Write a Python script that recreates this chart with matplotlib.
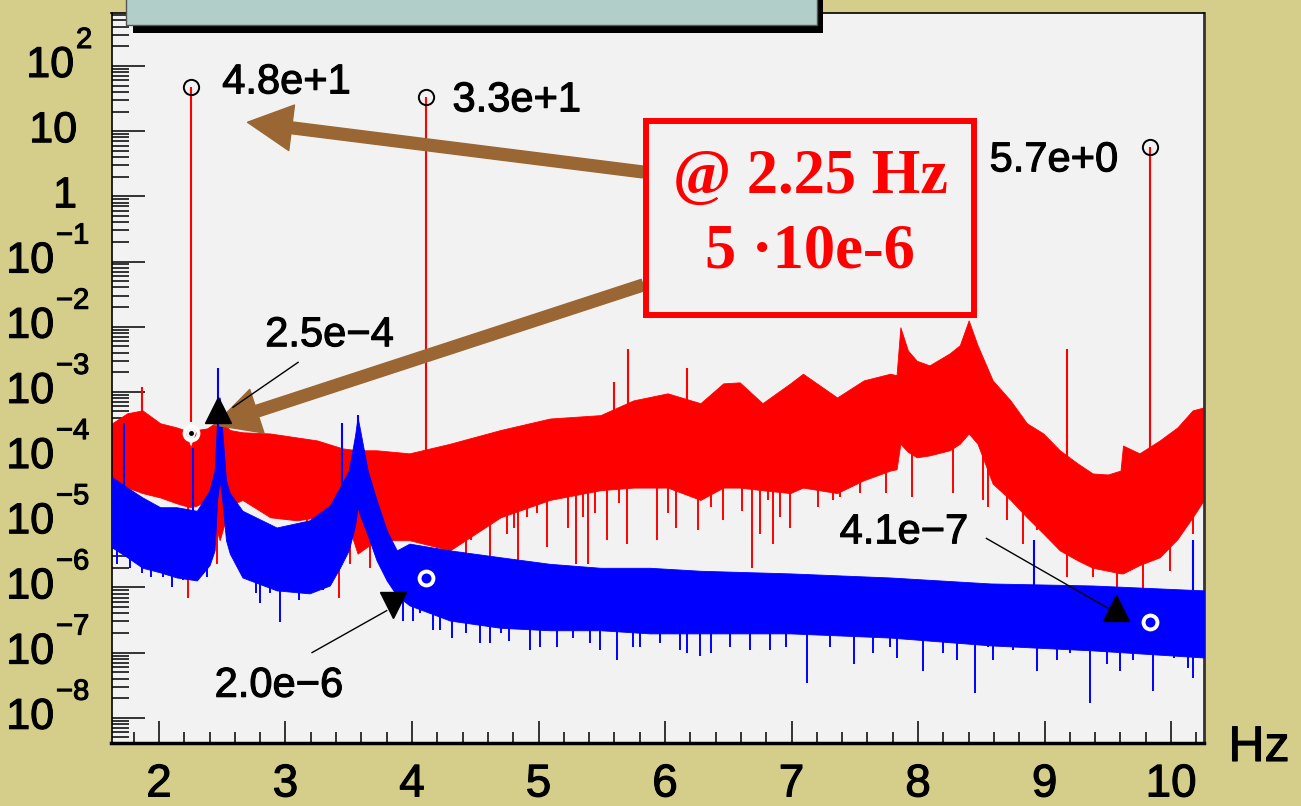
import numpy as np
import matplotlib.pyplot as plt
from matplotlib import transforms
from matplotlib import patheffects
from matplotlib.patches import Rectangle
from matplotlib.ticker import LogLocator, MultipleLocator, NullFormatter

plt.rcParams['font.family'] = ['Liberation Sans', 'DejaVu Sans']

# ---- red spectrum (dense band: upper / lower envelope)
red_hz = [1.63, 1.75, 1.87, 2.01, 2.14, 2.20, 2.25, 2.30, 2.38, 2.48, 2.56, 2.66,
          2.88, 3.09, 3.25, 3.45, 3.57, 3.72, 3.98, 4.30, 4.70, 5.09, 5.49, 5.75,
          6.02, 6.28, 6.46, 6.59, 6.77, 6.99, 7.09, 7.36, 7.57, 7.78, 7.83, 7.86,
          7.92, 7.99, 8.09, 8.25, 8.33, 8.40, 8.47, 8.59, 8.73, 8.86, 8.99, 9.12,
          9.26, 9.38, 9.50, 9.60, 9.62, 9.75, 9.91, 10.05, 10.17, 10.26]
red_hi = [3.3e-4, 4.7e-4, 5.2e-4, 3.3e-4, 2.85e-4, 2.6e-4, 1.4e-4, 2.6e-4, 2.75e-4, 3.7e-4, 2.6e-4, 2.4e-4,
          2.3e-4, 2.0e-4, 1.8e-4, 1.36e-4, 1.27e-4, 1.27e-4, 1.14e-4, 1.6e-4, 2.6e-4, 3.9e-4, 4.4e-4, 7.4e-4,
          9.5e-4, 6.7e-4, 1.35e-3, 1.4e-3, 6.7e-4, 1.35e-3, 1.9e-3, 8.2e-4, 1.5e-3, 1.9e-3, 1.8e-3, 9.8e-3,
          4.3e-3, 3.0e-3, 2.55e-3, 3.9e-3, 5.2e-3, 1.25e-2, 5.2e-3, 1.5e-3, 7.4e-4, 3.3e-4, 2.3e-4, 1.27e-4,
          8.0e-5, 5.6e-5, 5.4e-5, 6.2e-5, 1.5e-4, 1.14e-4, 1.8e-4, 2.85e-4, 5.2e-4, 5.8e-4]
red_lo = [4.4e-5, 3.4e-5, 2.8e-5, 2.4e-5, 1.95e-5, 1.8e-5, 1.7e-5, 1.8e-5, 2.2e-5, 5.3e-6, 1.8e-5, 2.2e-5,
          1.19e-5, 1.07e-5, 1.19e-5, 1.7e-5, 3.3e-6, 5.3e-6, 5.3e-6, 3.7e-6, 1.19e-5, 2.2e-5, 3.1e-5, 3.4e-5,
          3.4e-5, 2.2e-5, 3.4e-5, 3.4e-5, 3.1e-5, 2.8e-5, 3.4e-5, 2.8e-5, 4.4e-5, 6.2e-5, 6.5e-5, 1.6e-4,
          1.2e-4, 9.9e-5, 1.06e-4, 1.27e-4, 1.6e-4, 2.3e-4, 1.6e-4, 3.9e-5, 2.2e-5, 1.19e-5, 6.7e-6, 3.7e-6,
          2.6e-6, 2.0e-6, 1.8e-6, 1.64e-6, 1.64e-6, 2.2e-6, 2.9e-6, 5.5e-6, 1.19e-5, 2.2e-5]

# red downward spikes: position, lowest value, value where they join the band
red_dip_hz = [2.23, 2.46, 2.85, 3.01, 3.17, 3.30, 3.42, 3.51, 3.67, 3.77, 4.02, 4.10,
              4.20, 4.32, 4.38, 4.43, 4.47, 4.55, 4.62, 4.75, 4.81, 4.84, 4.91, 4.99,
              5.07, 5.23, 5.30, 5.35, 5.39, 5.45, 5.54, 5.64, 5.70, 5.94, 6.02, 6.09,
              6.26, 6.36, 6.46, 6.61, 6.69, 6.75, 6.81, 6.85, 6.91, 6.99, 7.21, 7.33,
              7.38, 7.54, 7.75, 7.95, 8.28, 8.51, 8.55, 8.70, 8.83, 8.94, 9.18, 9.38,
              9.57, 9.78, 9.99, 10.17]
red_dip_lo = [7.0e-7, 2.3e-6, 1.37e-5, 1.07e-5, 1.0e-6, 1.0e-6, 7.0e-7, 2.3e-6, 2.0e-6, 2.6e-6, 6.7e-6, 7.5e-6,
              5.0e-7, 6.7e-6, 7.5e-6, 3.3e-6, 5.3e-6, 7.5e-6, 2.9e-6, 6.7e-6, 8.3e-6, 2.6e-6, 1.19e-5, 1.37e-5,
              4.1e-6, 8.3e-6, 2.3e-6, 1.19e-5, 2.3e-6, 1.37e-5, 5.3e-6, 1.95e-5, 4.7e-6, 5.3e-6, 1.37e-5, 8.3e-6,
              7.5e-6, 1.7e-5, 1.07e-5, 1.5e-5, 2.0e-6, 6.7e-6, 2.2e-5, 4.7e-6, 1.19e-5, 8.3e-6, 1.7e-5, 2.2e-5,
              2.4e-5, 2.8e-5, 2.8e-5, 2.4e-5, 2.8e-5, 2.2e-5, 1.7e-5, 1.07e-5, 4.7e-6, 7.5e-6, 1.42e-6, 1.42e-6,
              1.0e-6, 9.0e-7, 1.8e-6, 6.7e-6]
red_dip_hi = [5e-5] * 13 + [5e-5, 5e-5] + [1e-4] * 22 + [2e-4] * 12 + [3e-4] * 6 + [1e-4, 5e-5, 5e-5] \
             + [2e-5] * 4 + [5e-5, 1e-4]

# red upward lines
red_line_hz = [1.87, 5.60, 5.71, 6.17, 9.18]
red_line_top = [1.2e-3, 1.4e-3, 4.6e-3, 2.3e-3, 4.6e-3]
red_line_base = [1e-4, 2e-4, 2e-4, 2e-4, 5e-5]

# red peaks found (circle markers + labels)
red_peak_hz = [2.25, 4.11, 9.83]
red_peak_val = [48, 33, 5.7]
red_peak_base = [3.4e-4, 1e-4, 1e-4]
red_peak_txt = ['4.8e+1', '3.3e+1', '5.7e+0']
white_mark_val = [2.3e-4, 1.4e-6, 2.9e-7]

# ---- blue spectrum
blue_hz = [1.63, 1.75, 1.87, 2.01, 2.14, 2.30, 2.40, 2.44, 2.46, 2.48, 2.50, 2.53,
           2.56, 2.66, 2.93, 3.19, 3.35, 3.43, 3.50, 3.55, 3.57, 3.59, 3.65, 3.72,
           3.80, 3.88, 3.98, 4.30, 4.70, 5.09, 5.49, 5.88, 6.28, 6.99, 7.78, 8.57,
           9.38, 10.26]
blue_hi = [4.9e-5, 3.4e-5, 2.4e-5, 1.7e-5, 1.7e-5, 1.5e-5, 3.1e-5, 6.2e-5, 3.7e-4, 8.2e-4, 2.6e-4, 4.4e-5,
           2.8e-5, 1.5e-5, 8.3e-6, 1.07e-5, 1.8e-5, 3.4e-5, 6.2e-5, 2.15e-4, 4.1e-4, 2.6e-4, 6.2e-5, 2.2e-5,
           7.5e-6, 3.7e-6, 4.7e-6, 3.7e-6, 2.9e-6, 2.3e-6, 2.0e-6, 2.0e-6, 1.8e-6, 1.64e-6, 1.42e-6, 1.15e-6,
           1.07e-6, 9.0e-7]
blue_lo = [4.1e-6, 2.9e-6, 2.0e-6, 1.7e-6, 1.42e-6, 1.28e-6, 2.2e-6, 3.7e-6, 2.2e-5, 4.4e-5, 2.2e-5, 5.3e-6,
           3.3e-6, 1.42e-6, 9.0e-7, 8.1e-7, 1.07e-6, 2.0e-6, 3.7e-6, 8.9e-6, 1.7e-5, 1.27e-5, 6.3e-6, 2.6e-6,
           1.28e-6, 7.5e-7, 5.3e-7, 3.1e-7, 2.4e-7, 2.2e-7, 2.2e-7, 1.97e-7, 1.97e-7, 1.97e-7, 1.7e-7, 1.29e-7,
           1.08e-7, 8.4e-8]

blue_dip_hz = [1.67, 1.77, 1.87, 1.94, 2.03, 2.10, 2.19, 2.38, 2.72, 2.77, 2.80, 2.88,
               2.96, 3.11, 3.30, 3.93, 4.01, 4.06, 4.17, 4.22, 4.32, 4.43, 4.54, 4.62,
               4.70, 4.77, 4.93, 5.01, 5.15, 5.27, 5.41, 5.49, 5.62, 5.75, 5.80, 5.96,
               6.12, 6.17, 6.28, 6.36, 6.51, 6.67, 6.83, 6.96, 7.12, 7.30, 7.49, 7.64,
               7.78, 7.83, 8.04, 8.20, 8.31, 8.45, 8.55, 8.59, 8.75, 8.94, 9.10, 9.20,
               9.36, 9.49, 9.60, 9.70, 9.86, 10.02, 10.13, 10.17]
blue_dip_lo = [2.3e-6, 2.0e-6, 1.64e-6, 1.42e-6, 1.42e-6, 1.0e-6, 1.28e-6, 1.42e-6, 1.28e-6, 8.1e-7, 5.7e-7, 8.1e-7,
               2.9e-7, 6.3e-7, 9.0e-7, 3.1e-7, 3.1e-7, 4.0e-7, 2.2e-7, 2.2e-7, 1.7e-7, 1.97e-7, 1.38e-7, 1.38e-7,
               1.97e-7, 1.53e-7, 1.08e-7, 1.2e-7, 1.2e-7, 1.7e-7, 1.38e-7, 1.08e-7, 7.6e-8, 1.2e-7, 1.2e-7, 1.38e-7,
               1.08e-7, 9.7e-8, 9.0e-8, 9.7e-8, 1.2e-7, 1.08e-7, 1.08e-7, 1.2e-7, 3.4e-8, 1.2e-7, 6.8e-8, 9.7e-8,
               1.2e-7, 8.4e-8, 5.3e-8, 9.7e-8, 7.6e-8, 2.4e-8, 1.2e-7, 7.6e-8, 1.08e-7, 5.3e-8, 7.6e-8, 9.7e-8,
               1.66e-8, 6.8e-8, 5.3e-8, 7.6e-8, 2.6e-8, 8.4e-8, 5.9e-8, 4.1e-8]
blue_dip_hi = [1e-5, 1e-5] + [5e-6] * 6 + [3e-6] * 7 + [2e-6] * 3 + [1e-6] * 2 + [5e-7] * 48

blue_line_hz = [1.72, 2.27, 2.47, 3.45, 3.57, 8.92, 10.17]
blue_line_top = [3.3e-4, 1.4e-4, 2.3e-3, 3.3e-4, 4.4e-4, 5.3e-6, 5.3e-6]
blue_line_base = [2e-5, 1e-5, 1e-4, 1e-5, 1e-4, 5e-7, 5e-7]

# blue peaks found (triangle markers + labels)
blue_peak_hz = [2.47, 3.85, 9.565]
blue_mark_val = [5.2e-4, 5.3e-7, 4.75e-7]
blue_peak_txt = ['2.5e\u22124', '2.0e\u22126', '4.1e\u22127']

W, H = 1301, 806
fig = plt.figure(figsize=(W / 100, H / 100), dpi=100, facecolor='#d4ce8a')
ax = fig.add_axes([111.5 / W, 1 - 743 / H, (1204 - 111.5) / W, (743 - 13) / H])
ax.set_facecolor('#f2f2f2')
ax.set_yscale('log')
ax.set_xlim(1.625, 10.26)
ax.set_ylim(4.1e-9, 650)

heavy = [patheffects.withStroke(linewidth=0.8, foreground='black')]

# red
ax.vlines(red_dip_hz, red_dip_lo, red_dip_hi, color='red', lw=1.4, zorder=1.8)
ax.fill_between(red_hz, red_lo, red_hi, color='red', lw=0.6, zorder=2)
ax.vlines(red_line_hz, red_line_base, red_line_top, color='red', lw=1.5, zorder=2.1)
ax.vlines(red_peak_hz, red_peak_base, red_peak_val, color='red', lw=1.5, zorder=2.1)

# blue on top
ax.vlines(blue_dip_hz, blue_dip_lo, blue_dip_hi, color='blue', lw=1.4, zorder=2.8)
ax.fill_between(blue_hz, blue_lo, blue_hi, color='blue', lw=0.6, zorder=3)
ax.vlines(blue_line_hz, blue_line_base, blue_line_top, color='blue', lw=1.5, zorder=3.1)

# markers
ax.plot(red_peak_hz, red_peak_val, 'o', ms=11, mfc='none', mec='black', mew=1.4, zorder=5)
ax.plot(red_peak_hz, white_mark_val, 'o', ms=10, mfc='none', mec='white', mew=2.8, zorder=5)
ax.plot(red_peak_hz[0], white_mark_val[0], 'o', ms=2.5, color='black', zorder=6)
for hz, v, m in zip(blue_peak_hz, blue_mark_val, ['^', 'v', '^']):
    ax.plot(hz, v, m, ms=19, color='black', mec='black', zorder=5)

# peak labels
lab = dict(fontsize=30, va='center', zorder=6, path_effects=heavy)
ax.text(2.50, 56, red_peak_txt[0], ha='left', **lab)
ax.text(4.32, 29.7, red_peak_txt[1], ha='left', **lab)
ax.text(9.58, 3.57, red_peak_txt[2], ha='right', **lab)
ax.text(2.84, 7.4e-3, blue_peak_txt[0], ha='left', **lab)
ax.text(2.44, 3.1e-8, blue_peak_txt[1], ha='left', **lab)
ax.text(7.38, 7.0e-6, blue_peak_txt[2], ha='left', **lab)
ax.plot([3.10, 2.585], [2.84e-3, 5.8e-4], color='black', lw=1, zorder=6)
ax.plot([3.21, 3.80], [1.0e-7, 4.4e-7], color='black', lw=1, zorder=6)
ax.plot([8.54, 9.50], [5.65e-6, 4.8e-7], color='black', lw=1, zorder=6)

# brown arrows towards the 2.25 Hz box
arrow_style = 'simple,head_length=32,head_width=33,tail_width=8.5'
for tip, tail in [((2.70, 13.7), (643, H - 172)), ((2.44, 3.1e-4), (643, H - 285))]:
    ax.annotate('', xy=tip, xycoords='data', xytext=tail, textcoords='figure pixels',
                annotation_clip=False,
                arrowprops=dict(arrowstyle=arrow_style, mutation_scale=1, color='#9a6633',
                                shrinkA=0, shrinkB=0, zorder=7))

# axes ticks
ax.set_xticks(range(2, 11))
ax.xaxis.set_minor_locator(MultipleLocator(0.2))
ax.set_yticks([10.0 ** k for k in range(-8, 3)])
ax.yaxis.set_minor_locator(LogLocator(base=10, subs=np.arange(2, 10), numticks=100))
ax.yaxis.set_minor_formatter(NullFormatter())
ax.tick_params(axis='x', which='major', direction='in', length=16, width=1.1, pad=14, labelsize=33)
ax.tick_params(axis='x', which='minor', direction='in', length=8, width=1.1)
ax.tick_params(axis='y', which='major', direction='in', length=24, width=1.1, labelleft=False)
ax.tick_params(axis='y', which='minor', direction='in', length=12, width=1.1)
for t in ax.get_xticklabels():
    t.set_path_effects(heavy)
for s in ax.spines.values():
    s.set_linewidth(1.2)
ax.spines['bottom'].set_linewidth(2.5)
ax.spines['right'].set_color('#333333')
ax.spines['right'].set_linewidth(2)

# ROOT-like log labels
blend = transforms.blended_transform_factory(fig.transFigure, ax.transData)
up = transforms.offset_copy(blend, fig=fig, x=0, y=26, units='dots')
for k in range(-8, 3):
    v = 10.0 ** k
    if k in (0, 1):
        ax.text(77 / W, v, str(10 ** k), transform=blend, ha='right', va='center', fontsize=31,
                clip_on=False, path_effects=heavy)
    else:
        base_right = 74 if k > 0 else 54
        exp_txt = str(k).replace('-', '\u2212')
        ax.text(base_right / W, v, '10', transform=blend, ha='right', va='center', fontsize=31,
                clip_on=False, path_effects=heavy)
        ax.text((base_right + 2) / W, v, exp_txt, transform=up, ha='left', va='center',
                fontsize=21, clip_on=False, path_effects=heavy)

fig.text(1259 / W, 1 - 748 / H, 'Hz', ha='center', va='center', fontsize=36, path_effects=heavy)

# title box (cut off at the top) with its shadow
fig.add_artist(Rectangle((133 / W, 1 - 33 / H), 690 / W, 40 / H, transform=fig.transFigure,
                         facecolor='black', edgecolor='none', zorder=10))
fig.add_artist(Rectangle((126 / W, 1 - 25 / H), 691 / W, 40 / H, transform=fig.transFigure,
                         facecolor='#b1cfc8', edgecolor='#555555', lw=1, zorder=11))

# red note box
fig.add_artist(Rectangle((646 / W, 1 - 315 / H), 328 / W, 194 / H, transform=fig.transFigure,
                         facecolor='#f2f2f2', edgecolor='red', lw=4.3, zorder=10))
fig.text(810 / W, 1 - 178 / H, '@ 2.25 Hz', color='red', fontsize=45, fontweight='bold',
         family=['Liberation Serif', 'DejaVu Serif'], ha='center', va='center', zorder=11)
fig.text(810 / W, 1 - 252 / H, '5 \u00b710e-6', color='red', fontsize=45, fontweight='bold',
         family=['Liberation Serif', 'DejaVu Serif'], ha='center', va='center', zorder=11)

fig.savefig('out.png', dpi=100, facecolor=fig.get_facecolor())
